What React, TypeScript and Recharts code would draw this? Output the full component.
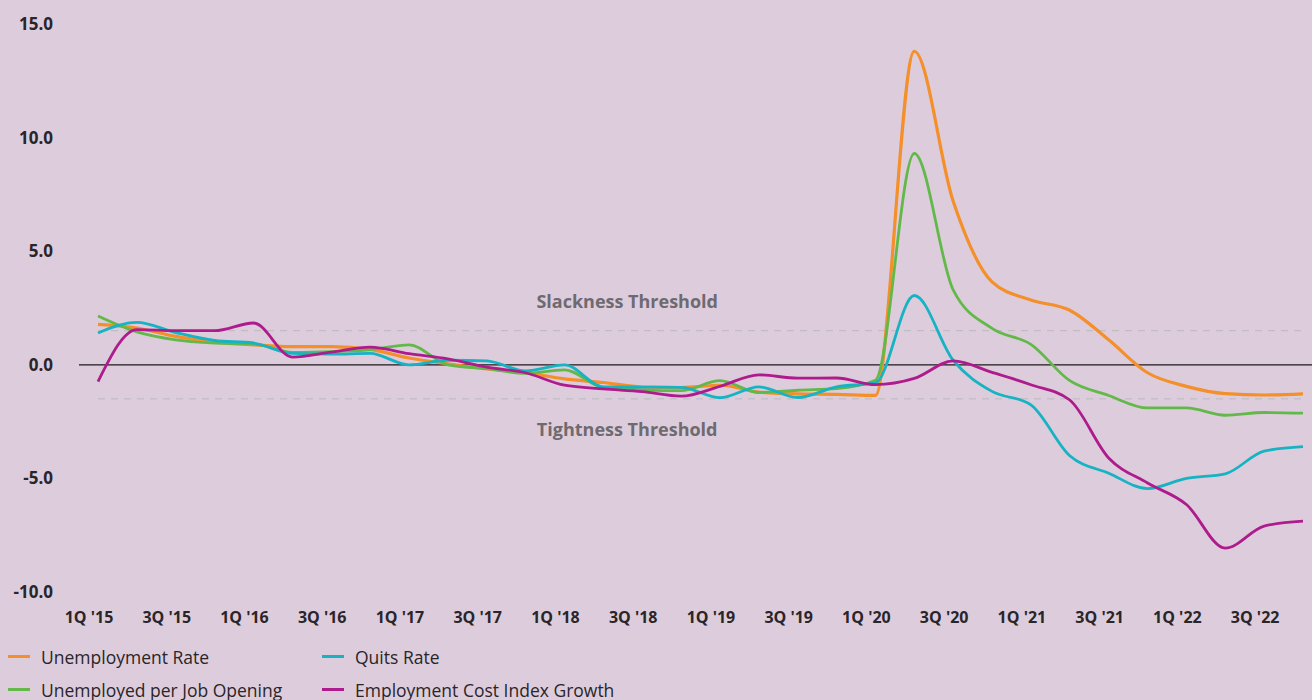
import React from 'react';
import { LineChart, Line, XAxis, YAxis, ReferenceLine, ReferenceDot, Legend } from 'recharts';

const quarters = [
  "1Q '15", "2Q '15", "3Q '15", "4Q '15",
  "1Q '16", "2Q '16", "3Q '16", "4Q '16",
  "1Q '17", "2Q '17", "3Q '17", "4Q '17",
  "1Q '18", "2Q '18", "3Q '18", "4Q '18",
  "1Q '19", "2Q '19", "3Q '19", "4Q '19",
  "1Q '20", "2Q '20", "3Q '20", "4Q '20",
  "1Q '21", "2Q '21", "3Q '21", "4Q '21",
  "1Q '22", "2Q '22", "3Q '22", "4Q '22",
];

const unemploymentRate = [
  1.78, 1.62, 1.25, 1.0, 0.88, 0.8, 0.8, 0.68,
  0.3, 0.04, -0.18, -0.35, -0.62, -0.78, -0.98, -1.0,
  -0.9, -1.2, -1.28, -1.3, -1.35, 13.8, 7.2, 3.65,
  2.85, 2.4, 1.1, -0.35, -0.95, -1.27, -1.33, -1.28,
];

const unemployedPerOpening = [
  2.15, 1.45, 1.1, 0.95, 0.92, 0.55, 0.58, 0.66,
  0.88, 0.0, -0.17, -0.38, -0.22, -1.0, -1.1, -1.14,
  -0.7, -1.22, -1.12, -1.05, -0.68, 9.3, 3.3, 1.6,
  0.9, -0.7, -1.35, -1.9, -1.9, -2.22, -2.1, -2.13,
];

const quitsRate = [
  1.4, 1.87, 1.42, 1.07, 0.96, 0.5, 0.47, 0.5,
  0.0, 0.2, 0.17, -0.27, 0.0, -0.97, -0.98, -0.99,
  -1.45, -0.97, -1.44, -0.97, -0.8, 3.05, 0.2, -1.17,
  -1.76, -4.0, -4.77, -5.45, -5.0, -4.8, -3.8, -3.6,
];

const eciGrowth = [
  -0.74, 1.55, 1.5, 1.5, 1.84, 0.34, 0.56, 0.78,
  0.49, 0.26, -0.1, -0.35, -0.9, -1.06, -1.18, -1.38,
  -0.95, -0.44, -0.59, -0.58, -0.87, -0.6, 0.17, -0.33,
  -0.88, -1.55, -4.1, -5.2, -6.15, -8.07, -7.1, -6.88,
];

const yTicks = [-10, -5, 0, 5, 10, 15];
const slackness = 1.5;
const tightness = -1.5;

const series = [
  { key: 'unemploymentRate', name: 'Unemployment Rate', color: '#f48f2a', values: unemploymentRate },
  { key: 'unemployedPerOpening', name: 'Unemployed per Job Opening', color: '#62b94a', values: unemployedPerOpening },
  { key: 'quitsRate', name: 'Quits Rate', color: '#17b3c3', values: quitsRate },
  { key: 'eciGrowth', name: 'Employment Cost Index Growth', color: '#ae1b8d', values: eciGrowth },
];

const legendOrder = ['unemploymentRate', 'quitsRate', 'unemployedPerOpening', 'eciGrowth'];

const data = quarters.map((q, i) => {
  const row: any = { quarter: q };
  series.forEach((s) => { row[s.key] = s.values[i]; });
  return row;
});

const FONT = '"Open Sans", "Noto Sans", sans-serif';
const BG = '#ddcddc';
const TEXT = '#2a2528';

const XTick = (props: any) => {
  const { x, y, payload } = props;
  return (
    <text x={x - 9} y={y} dy={23} textAnchor="middle" fill={TEXT} fontSize={16} fontWeight={700} fontFamily={FONT}>
      {payload.value}
    </text>
  );
};

const LegendContent = () => (
  <div style={{ display: 'grid', gridTemplateColumns: '314px 420px', paddingTop: 18, paddingLeft: 8, height: 78, boxSizing: 'border-box', fontFamily: FONT, fontSize: 17.5, color: TEXT }}>
    {legendOrder.map((k) => {
      const s = series.find((d) => d.key === k)!;
      return (
        <div key={k} style={{ display: 'flex', alignItems: 'center', height: 33, whiteSpace: 'nowrap' }}>
          <span style={{ display: 'inline-block', width: 22, height: 3, background: s.color, marginRight: 11 }} />
          <span>{s.name}</span>
        </div>
      );
    })}
  </div>
);

const makeLabel = (text: string) => (props: any) => {
  const vb = props.viewBox || {};
  const cx = (vb.x ?? 0) + (vb.width ?? 0) / 2;
  const cy = (vb.y ?? 0) + (vb.height ?? 0) / 2;
  return (
    <text x={cx - 15} y={cy} dy={6} textAnchor="middle" fill="#6e6a70" fontSize={18} fontWeight={700} fontFamily={FONT}>
      {text}
    </text>
  );
};

export default function App() {
  return (
    <div style={{ position: 'absolute', left: 0, top: 0, width: 1312, height: 700, background: BG, overflow: 'hidden' }}>
      <LineChart width={1312} height={700} data={data} margin={{ top: 24, right: 0, bottom: 0, left: 0 }}>
        <XAxis
          dataKey="quarter"
          interval={1}
          height={30}
          axisLine={false}
          tickLine={false}
          tick={<XTick />}
          padding={{ left: 19, right: 9 }}
        />
        <YAxis
          domain={[-10, 15]}
          ticks={yTicks}
          width={79}
          axisLine={false}
          tickLine={false}
          tickMargin={20}
          tickFormatter={(v: number) => v.toFixed(1)}
          tick={{ fill: TEXT, fontSize: 17, fontWeight: 700, fontFamily: FONT }}
        />
        <ReferenceLine y={0} stroke="#1c1a1c" strokeWidth={1.3} />
        <ReferenceLine
          segment={[{ x: quarters[0], y: slackness }, { x: quarters[quarters.length - 1], y: slackness }]}
          stroke="#b9b9bd"
          strokeDasharray="7 6"
          strokeWidth={1}
        />
        <ReferenceLine
          segment={[{ x: quarters[0], y: tightness }, { x: quarters[quarters.length - 1], y: tightness }]}
          stroke="#b9b9bd"
          strokeDasharray="7 6"
          strokeWidth={1}
        />
        <ReferenceDot x={quarters[14]} y={2.77} r={0} fill="none" stroke="none" label={makeLabel('Slackness Threshold')} />
        <ReferenceDot x={quarters[14]} y={-2.86} r={0} fill="none" stroke="none" label={makeLabel('Tightness Threshold')} />
        {series.map((s) => (
          <Line
            key={s.key}
            type="monotone"
            dataKey={s.key}
            name={s.name}
            stroke={s.color}
            strokeWidth={s.key === 'unemploymentRate' ? 3.2 : 2.8}
            dot={false}
            activeDot={false}
            isAnimationActive={false}
          />
        ))}
        <Legend verticalAlign="bottom" align="left" height={78} content={<LegendContent />} wrapperStyle={{ left: 0, width: 1312 }} />
      </LineChart>
    </div>
  );
}
